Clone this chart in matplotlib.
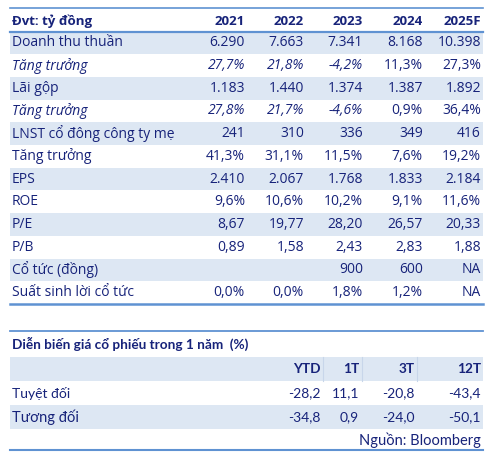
import matplotlib
matplotlib.use("Agg")
import matplotlib.pyplot as plt
from matplotlib.patches import Rectangle

# bảng tài chính
years = ["2021", "2022", "2023", "2024", "2025F"]
row_labels = ["Doanh thu thuần", "Tăng trưởng", "Lãi gộp", "Tăng trưởng",
              "LNST cổ đông công ty mẹ", "Tăng trưởng", "EPS", "ROE", "P/E",
              "P/B", "Cổ tức (đồng)", "Suất sinh lời cổ tức"]
italic_rows = [1, 3]
italic_cols = 3   # chỉ 2021-2023 in nghiêng
revenue = ["6.290", "7.663", "7.341", "8.168", "10.398"]
revenue_growth = ["27,7%", "21,8%", "-4,2%", "11,3%", "27,3%"]
gross_profit = ["1.183", "1.440", "1.374", "1.387", "1.892"]
gross_growth = ["27,8%", "21,7%", "-4,6%", "0,9%", "36,4%"]
npat = ["241", "310", "336", "349", "416"]
npat_growth = ["41,3%", "31,1%", "11,5%", "7,6%", "19,2%"]
eps = ["2.410", "2.067", "1.768", "1.833", "2.184"]
roe = ["9,6%", "10,6%", "10,2%", "9,1%", "11,6%"]
pe = ["8,67", "19,77", "28,20", "26,57", "20,33"]
pb = ["0,89", "1,58", "2,43", "2,83", "1,88"]
dividend = ["", "", "900", "600", "NA"]
div_yield = ["0,0%", "0,0%", "1,8%", "1,2%", "NA"]
table = [revenue, revenue_growth, gross_profit, gross_growth, npat, npat_growth,
         eps, roe, pe, pb, dividend, div_yield]

# diễn biến giá
periods = ["YTD", "1T", "3T", "12T"]
perf_labels = ["Tuyệt đối", "Tương đối"]
absolute = ["-28,2", "11,1", "-20,8", "-43,4"]
relative = ["-34,8", "0,9", "-24,0", "-50,1"]

navy = "#17237a"
shade = "#dde7f3"
line_c = "#5f92d2"

fig = plt.figure(figsize=(4.91, 4.57), dpi=100)
ax = fig.add_axes([0, 0, 1, 1])
ax.set_xlim(0, 491)
ax.set_ylim(457, 0)
ax.axis("off")

left, right = 10, 483
f1 = "Open Sans"
f2 = "Lato"

# phần trên
top, head_h, row_h = 8, 23.5, 22.7
year_x = [245, 304, 363, 423, 481]
ax.plot([left, right], [top, top], color=line_c, lw=1.2)
ax.text(12, top + 13.5, "Đvt: tỷ đồng", family=f1, weight="bold",
        fontsize=9.5, color=navy, va="center")
for x, y in zip(year_x, years):
    ax.text(x, top + 13.5, y, family=f1, weight="bold", fontsize=9.5,
            color=navy, va="center", ha="right")
y0 = top + head_h
for i, (lab, vals) in enumerate(zip(row_labels, table)):
    y = y0 + i * row_h
    if i % 2 == 0:
        ax.add_patch(Rectangle((left, y), right - left, row_h, color=shade, lw=0))
    st = "italic" if i in italic_rows else "normal"
    ax.text(12, y + row_h / 2, lab, family=f1, style=st, fontsize=10,
            color=navy, va="center")
    for j, (x, v) in enumerate(zip(year_x, vals)):
        vs = st if j < italic_cols else "normal"
        ax.text(x, y + row_h / 2, v, family=f1, style=vs, fontsize=10,
                color=navy, va="center", ha="right")
ax.plot([left, right], [y0, y0], color=line_c, lw=1.6)
y_end = y0 + len(row_labels) * row_h
ax.plot([left, right], [y_end, y_end], color=line_c, lw=1.8)

# phần dưới
t2 = 331
ax.plot([left, right], [t2, t2], color=line_c, lw=1.3)
ax.text(12, 343.5, "Diễn biến giá cổ phiếu trong 1 năm  (%)", family=f2,
        weight="bold", fontsize=9.8, color=navy, va="center")
h2 = 357
rh2 = 24
ax.add_patch(Rectangle((left, h2), right - left, rh2, color=shade, lw=0))
per_x = [321, 359, 415, 481]
for xs in [323, 362, 417]:
    ax.plot([xs, xs], [h2, h2 + rh2], color="#c8d6ea", lw=0.8)
for x, p in zip(per_x, periods):
    ax.text(x, h2 + rh2 / 2, p, family=f2, weight="bold", fontsize=9.8,
            color=navy, va="center", ha="right")
for i, (lab, vals) in enumerate(zip(perf_labels, [absolute, relative])):
    y = h2 + rh2 * (i + 1)
    if i == 1:
        ax.add_patch(Rectangle((left, y), right - left, rh2, color=shade, lw=0))
    ax.text(12, y + rh2 / 2, lab, family=f2, fontsize=10.5 if i else 10,
            color=navy, va="center")
    for x, v in zip(per_x, vals):
        ax.text(x, y + rh2 / 2, v, family=f2, fontsize=10, color=navy,
                va="center", ha="right")
ax.text(481, 440, "Nguồn: Bloomberg", family=f2, fontsize=10.5, color=navy,
        va="center", ha="right")
ax.plot([left, right], [450, 450], color=line_c, lw=1.5)

fig.savefig("out.png", dpi=100)
